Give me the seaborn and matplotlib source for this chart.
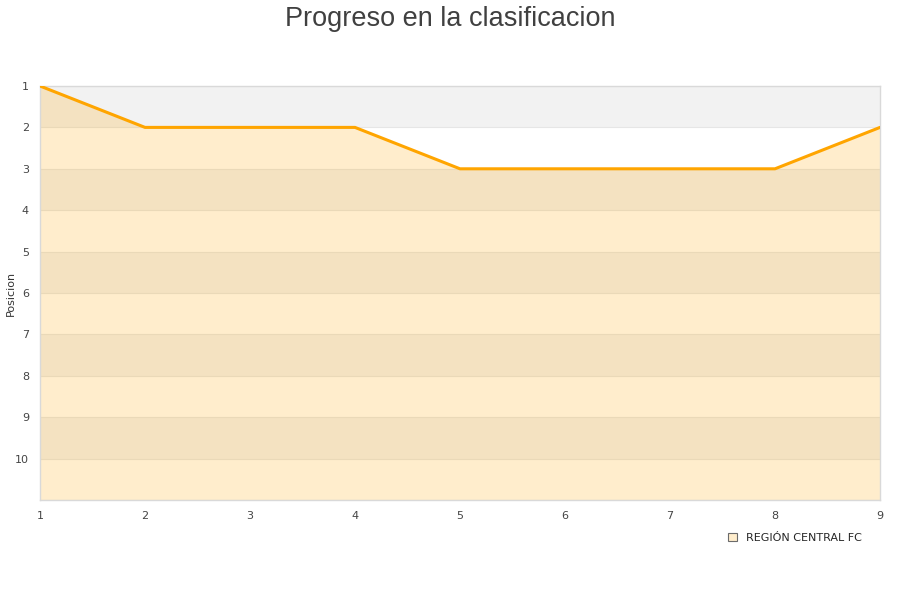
import matplotlib
matplotlib.use("Agg")
import matplotlib.pyplot as plt
import seaborn as sns
import pandas as pd
from matplotlib.patches import Patch

# Data
jornadas = [1, 2, 3, 4, 5, 6, 7, 8, 9]
posiciones = [1, 2, 2, 2, 3, 3, 3, 3, 2]
equipo = "REGIÓN CENTRAL FC"
y_ticks = [1, 2, 3, 4, 5, 6, 7, 8, 9, 10]

df = pd.DataFrame({"jornada": jornadas, "posicion": posiciones})

sns.set_style("white")
plt.rcParams['font.family'] = ['DejaVu Sans']

fig = plt.figure(figsize=(9, 6), dpi=100)
ax = fig.add_axes([40 / 900, 100 / 600, 840 / 900, 414 / 600])

# alternating background bands
for k in range(1, 11, 2):
    ax.axhspan(k, k + 1, color='#f2f2f2', zorder=0, lw=0)
for k in range(1, 12):
    ax.axhline(k, color='#e6e6e6', lw=0.8, zorder=0.5)

sns.lineplot(data=df, x="jornada", y="posicion", color='#ffa500', lw=2.2, ax=ax, zorder=3)
ax.fill_between(df["jornada"], df["posicion"], 11, color='#ffa500', alpha=0.2, lw=0, zorder=2)

ax.set_xlim(1, 9)
ax.set_ylim(11, 1)
ax.set_yticks(y_ticks)
ax.set_xticks(jornadas)
ax.tick_params(axis='both', labelsize=8, colors='#444444', length=0, pad=8)
ax.set_xlabel("")
ax.set_ylabel("Posicion", fontsize=8, color='#333333')
ax.yaxis.set_label_coords(-24 / 840, 0.5)
for s in ax.spines.values():
    s.set_color('#d9d9d9')
    s.set_linewidth(1)

fig.suptitle("Progreso en la clasificacion", y=0.99, fontsize=19.5,
             color='#404040', family='Liberation Sans')

handle = Patch(facecolor='#ffedcc', edgecolor='#6b6b6b', lw=0.8)
fig.legend([handle], [equipo], loc='center', bbox_to_anchor=(795 / 900, 1 - 538 / 600),
           frameon=False, fontsize=8, handlelength=0.8, handleheight=0.8, handletextpad=0.8)

fig.savefig("out.png", dpi=100)
